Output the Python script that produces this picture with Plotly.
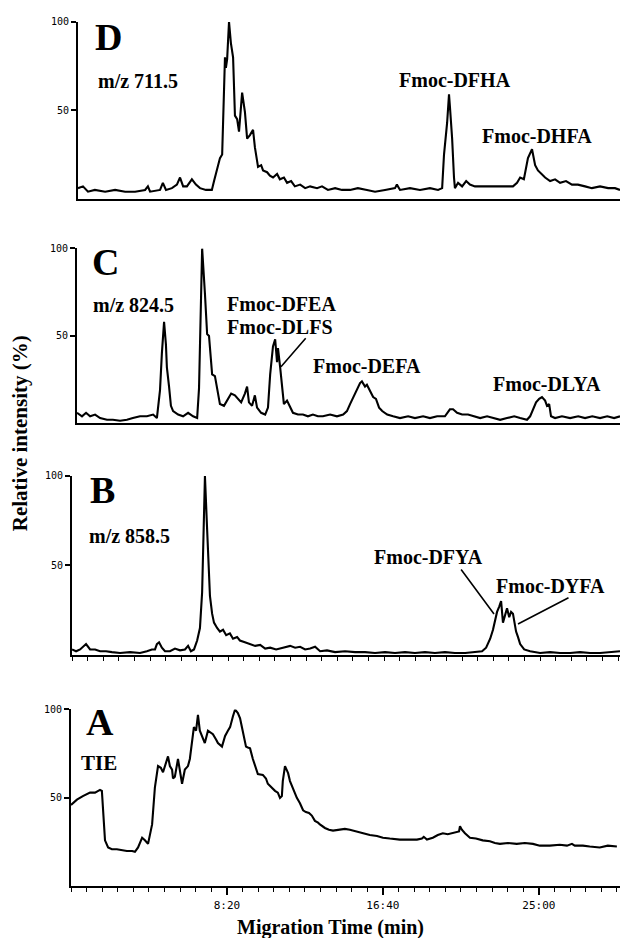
import plotly.graph_objects as go

# ---------------- data (time in s, relative intensity in %) ----------------
d_time = [0, 16, 32, 54, 87, 119, 151, 183, 215, 224, 231, 263, 272, 282, 301, 317, 327, 337, 349, 365,
          378, 391, 410, 429, 436, 446, 455, 462, 468, 471, 474, 478, 484, 490, 497, 503, 510, 516, 526, 535,
          542, 551, 561, 567, 577, 587, 593, 606, 615, 625, 638, 647, 660, 670, 683, 695, 712, 728, 744, 766,
          782, 801, 824, 846, 872, 897, 926, 952, 984, 1016, 1022, 1032, 1064, 1096, 1128, 1154, 1167, 1173,
          1183, 1189, 1192, 1199, 1205, 1208, 1218, 1231, 1244, 1256, 1272, 1304, 1336, 1369, 1394, 1407,
          1417, 1429, 1442, 1455, 1465, 1474, 1484, 1497, 1513, 1529, 1545, 1564, 1583, 1602, 1625, 1647,
          1673, 1699, 1721, 1737]
d_int = [6, 7, 4, 5, 4, 5, 4, 4, 5, 7, 4, 5, 9, 5, 6, 8, 12, 7, 7, 11,
         8, 6, 5, 5, 10, 17, 23, 25, 55, 80, 74, 79, 100, 88, 80, 47, 45, 38, 60, 49,
         34, 36, 39, 29, 18, 19, 16, 15, 13, 12, 14, 11, 12, 9, 10, 7, 8, 6, 7, 6,
         7, 5, 6, 5, 5, 6, 5, 4, 5, 6, 8, 5, 6, 5, 6, 5, 6, 25,
         43, 59, 52, 34, 12, 6, 9, 7, 10, 8, 7, 7, 7, 7, 7, 9,
         12, 11, 23, 28, 19, 16, 14, 12, 10, 11, 9, 10, 8, 8, 7, 6,
         7, 6, 6, 5]

c_time = [0, 16, 29, 42, 58, 74, 96, 115, 138, 160, 179, 202, 224, 244, 256, 266, 272, 279, 285, 288,
          295, 301, 308, 324, 340, 356, 372, 385, 391, 394, 401, 410, 417, 423, 433, 442, 449, 458, 471, 484,
          494, 506, 516, 526, 538, 545, 551, 561, 570, 577, 590, 603, 612, 619, 628, 635, 641, 644, 651, 657,
          663, 673, 683, 692, 708, 724, 740, 756, 772, 788, 811, 833, 853, 865, 875, 888, 897, 907, 913, 923,
          929, 939, 949, 958, 968, 978, 994, 1013, 1035, 1061, 1083, 1109, 1131, 1154, 1179, 1195, 1205, 1218,
          1234, 1253, 1269, 1292, 1314, 1336, 1356, 1378, 1401, 1420, 1442, 1452, 1461, 1471, 1481, 1490,
          1500, 1506, 1513, 1519, 1532, 1554, 1580, 1606, 1628, 1651, 1676, 1699, 1721, 1740]
c_int = [6, 4, 6, 4, 5, 3, 2, 2, 1.5, 2, 3, 4, 4, 5, 3, 19, 40, 58, 45, 32,
         21, 10, 7, 5, 4, 6, 4, 3, 20, 41, 100, 74, 51, 50, 28, 27, 19, 11, 10, 14,
         17, 16, 14, 12, 17, 21, 12, 10, 16, 9, 6, 5, 9, 28, 44, 48, 35, 43, 32, 21,
         11, 13, 9, 6, 5, 5, 4, 5, 4, 4, 5, 4, 5, 7, 11, 16, 19, 23, 24, 21,
         22, 18, 15, 14, 9, 7, 5, 4, 3, 4, 3, 4, 3, 4, 4, 8, 8, 6,
         5, 5, 4, 3, 4, 3, 2, 3, 4, 3, 2, 4, 8, 12, 14, 15,
         13, 10, 11, 4, 3, 4, 3, 4, 3, 4, 3, 4, 3, 4]

b_time = [0, 13, 26, 45, 58, 74, 90, 109, 128, 154, 186, 218, 240, 256, 266, 272, 279, 288, 298, 314,
          330, 346, 362, 372, 381, 391, 401, 410, 417, 420, 426, 433, 439, 442, 449, 455, 465, 474, 484, 494,
          506, 516, 529, 538, 554, 570, 587, 603, 619, 635, 654, 676, 699, 715, 731, 747, 763, 779, 795, 817,
          843, 875, 907, 939, 971, 1003, 1035, 1067, 1099, 1131, 1163, 1195, 1227, 1260, 1292, 1314, 1327,
          1340, 1349, 1362, 1369, 1375, 1381, 1388, 1394, 1401, 1407, 1413, 1420, 1423, 1429, 1436, 1449,
          1468, 1500, 1532, 1564, 1596, 1628, 1660, 1692, 1724, 1756]
b_int = [3, 2, 3, 6, 3, 3, 2, 2, 1.5, 1, 1.5, 1, 2, 3, 3, 6, 7, 4, 2, 2,
         3.5, 2.5, 3, 5, 2, 3, 8, 15, 35, 55, 100, 70, 42, 33, 23, 18, 15, 13, 14, 11,
         12, 9, 10, 8, 7, 6, 5, 5.5, 3.5, 4, 3, 4, 5, 4, 4.5, 3, 3.5, 4.5, 2, 2.5,
         1.5, 2, 1.5, 1.5, 1, 1.5, 1, 1.5, 1, 1.5, 1, 1.5, 1, 1, 1.5, 2, 4,
         9, 14, 24, 27, 30, 18, 22, 26, 21, 24, 23, 16, 13, 10, 6, 3,
         2, 1, 1.5, 1, 1, 1.5, 1, 1, 1.5, 2]

a_time = [0, 19, 38, 61, 77, 93, 99, 103, 109, 119, 131, 147, 163, 179, 196, 205, 215, 228, 237, 247,
          260, 269, 279, 288, 295, 304, 311, 317, 324, 327, 333, 343, 349, 356, 365, 375, 381, 388, 394, 401,
          407, 413, 420, 429, 439, 449, 455, 465, 471, 484, 494, 503, 510, 519, 526, 535, 542, 548, 554, 561,
          567, 574, 583, 593, 599, 615, 625, 631, 644, 654, 663, 670, 676, 679, 686, 696, 702, 715, 724, 734,
          744, 753, 763, 772, 782, 792, 798, 814, 827, 840, 862, 878, 894, 917, 936, 958, 981, 1000, 1022,
          1054, 1087, 1109, 1125, 1131, 1141, 1151, 1160, 1176, 1192, 1208, 1221, 1237, 1244, 1247, 1253,
          1263, 1279, 1298, 1320, 1343, 1359, 1375, 1401, 1429, 1455, 1481, 1503, 1535, 1567, 1590, 1606,
          1615, 1641, 1663, 1695, 1721, 1750]
a_int = [46, 49, 51, 53, 53, 54.5, 54, 44, 26, 22, 21, 21, 20.5, 20, 20, 19.5, 22, 27.5, 26, 24,
         35, 56, 68, 67, 64.5, 70, 73.5, 68, 66, 61, 62, 72, 65, 58, 66, 68, 72, 83, 90, 88,
         97, 88, 85, 81, 88, 87, 86, 83, 81, 79, 85, 88, 90, 96, 100, 98, 95, 90, 84, 79,
         78.5, 78, 72, 67, 63.5, 63, 61, 58, 55.5, 54, 53, 50, 51, 59.5, 68, 64, 59.5, 54, 50, 47,
         43, 42, 41.5, 40, 37, 36, 35, 33, 32, 31.5, 32, 32.5, 32, 31, 30, 29, 28.5, 27.5, 27,
         26.4, 26.5, 26.4, 27, 28, 26.5, 27, 27.5, 29, 30, 29.5, 30, 30.5, 31, 34, 32,
         30, 27.5, 27, 26, 25.5, 24.5, 24, 24.5, 24, 24.5, 24, 23, 23, 23.5, 23, 24,
         23, 23, 22.5, 22, 23, 22.5]

y_ticks = [50, 100]
x_major = [500, 1000, 1500]
x_major_text = ["8:20", "16:40", "25:00"]

# ---------------- layout helpers ----------------
W, H = 620, 938
SERIF = "Liberation Serif"
MONO = "DejaVu Sans Mono"

panels = [
    # (trace x, trace y, axis suffix, x domain start px, top px, bottom px, x max, tick mode)
    (d_time, d_int, "", 78, 16, 194, 1737, None),
    (c_time, c_int, "2", 77, 244, 420, 1740, None),
    (b_time, b_int, "3", 72, 473, 653, 1756, "nolabel"),
    (a_time, a_int, "4", 71, 708, 886, 1760, "label"),
]

fig = go.Figure()
layout = dict(width=W, height=H, margin=dict(l=0, r=0, t=0, b=0),
              paper_bgcolor="white", plot_bgcolor="white", showlegend=False)

for tx, ty, suf, x0, top, bot, xmax, tmode in panels:
    fig.add_trace(go.Scatter(x=tx, y=ty, mode="lines",
                             line=dict(color="black", width=2.1),
                             xaxis="x" + suf, yaxis="y" + suf, hoverinfo="skip"))
    xa = dict(domain=[x0 / W, 1.0], range=[0, xmax], anchor="y" + suf,
              showline=True, linecolor="black", linewidth=2, showgrid=False,
              zeroline=False, fixedrange=True)
    if tmode is None:
        xa.update(ticks="", showticklabels=False)
    else:
        xa.update(tickmode="array", tickvals=x_major,
                  ticktext=x_major_text if tmode == "label" else ["", "", ""],
                  showticklabels=(tmode == "label"),
                  ticks="outside", ticklen=7, tickwidth=1.5, tickcolor="black",
                  tickfont=dict(family=MONO, size=11, color="black"),
                  minor=dict(tickmode="linear", tick0=0, dtick=50, ticks="outside",
                             ticklen=4, tickwidth=1.2, tickcolor="black"))
    ya = dict(domain=[1 - bot / H, 1 - top / H], range=[0, 100], anchor="x" + suf,
              showline=True, linecolor="black", linewidth=2, showgrid=False,
              zeroline=False, tickmode="array", tickvals=y_ticks,
              ticktext=[str(v) for v in y_ticks], ticks="outside", ticklen=5,
              tickwidth=1.5, tickcolor="black",
              tickfont=dict(family=MONO, size=10, color="black"), fixedrange=True)
    layout["xaxis" + suf] = xa
    layout["yaxis" + suf] = ya

fig.update_layout(**layout)


def txt(s, x, y, size=20, xanchor="left"):
    fig.add_annotation(text="<b>" + s + "</b>", x=x / W, y=1 - y / H, xref="paper", yref="paper",
                       xanchor=xanchor, yanchor="middle", showarrow=False,
                       font=dict(family=SERIF, size=size, color="black"))


# panel letters & labels
txt("D", 93, 31, 38)
txt("m/z 711.5", 96, 75)
txt("Fmoc-DFHA", 455, 74, xanchor="center")
txt("Fmoc-DHFA", 537, 131, xanchor="center")

txt("C", 90, 258, 38)
txt("m/z 824.5", 91, 301)
txt("Fmoc-DFEA", 225, 300)
txt("Fmoc-DLFS", 225, 323)
txt("Fmoc-DEFA", 311, 362)
txt("Fmoc-DLYA", 491, 380)

txt("B", 88, 487, 38)
txt("m/z 858.5", 87, 533)
txt("Fmoc-DFYA", 372, 555)
txt("Fmoc-DYFA", 494, 584)

txt("A", 84, 721, 38)
txt("TIE", 79, 762, 21)


def pointer(tip, tail):
    fig.add_annotation(text="", x=tip[0] / W, y=1 - tip[1] / H, xref="paper", yref="paper",
                       ax=tail[0] - tip[0], ay=tail[1] - tip[1], showarrow=True,
                       arrowhead=0, arrowwidth=1.6, arrowcolor="black")


pointer((281, 363), (307, 333))
pointer((494, 612), (460, 566))
pointer((518, 622), (570, 595))

# axis titles
fig.add_annotation(text="<b>Relative intensity (%)</b>", x=20 / W, y=1 - 430 / H,
                   xref="paper", yref="paper", textangle=-90, showarrow=False,
                   xanchor="center", yanchor="middle",
                   font=dict(family=SERIF, size=21, color="black"))
fig.add_annotation(text="<b>Migration Time (min)</b>", x=331 / W, y=1 - 927 / H,
                   xref="paper", yref="paper", showarrow=False,
                   xanchor="center", yanchor="middle",
                   font=dict(family=SERIF, size=20, color="black"))

fig.write_html("out.html")
